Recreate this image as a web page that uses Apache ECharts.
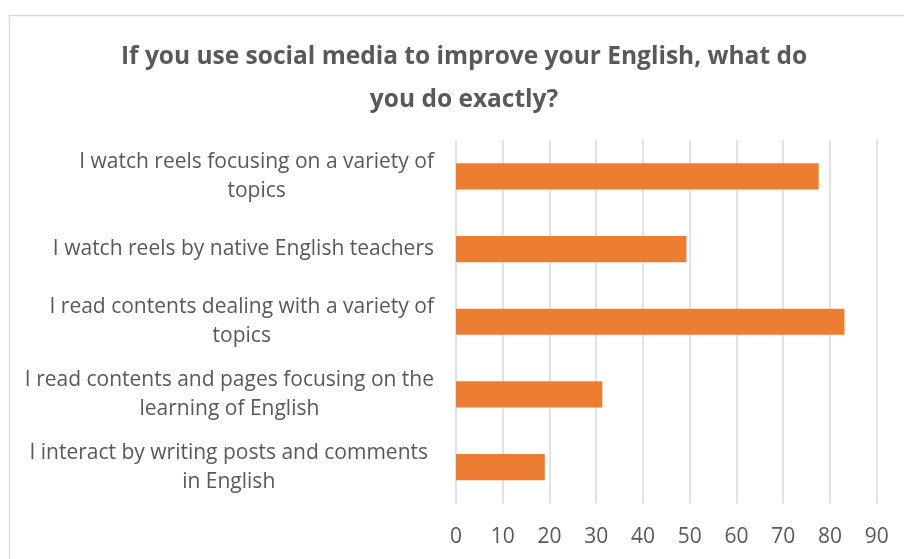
<!DOCTYPE html>
<html>
<head>
<meta charset="utf-8">
<script src="https://cdn.jsdelivr.net/npm/echarts@6/dist/echarts.min.js"></script>
<style>
  html, body { margin: 0; padding: 0; background: #fff; }
  #chart { width: 904px; height: 559px; }
</style>
</head>
<body>
<div id="chart"></div>
<script>
// Survey answers, top to bottom, with the line breaks used in the axis labels
const categories = [
  'I watch reels focusing on a variety of\ntopics',
  'I watch reels by native English teachers',
  'I read contents dealing with a variety of\ntopics',
  'I read contents and pages focusing on the\nlearning of English',
  'I interact by writing posts and comments\nin English'
];
const values = [77.6, 49.3, 83.1, 31.3, 19.0];
const tickMin = 0;
const tickMax = 90;
const tickStep = 10;

const titleText = 'If you use social media to improve your English, what do\nyou do exactly?';

const FONT = '"Open Sans", sans-serif';
const TEXT = '#595959';
const GRID = '#D9D9D9';
const BAR = '#ED7D31';

const chart = echarts.init(document.getElementById('chart'), null, { renderer: 'canvas' });

chart.setOption({
  animation: false,
  backgroundColor: '#ffffff',
  graphic: [{
    type: 'rect',
    shape: { x: 9.5, y: 15.5, width: 1000, height: 1000 },
    style: { fill: 'none', stroke: GRID, lineWidth: 1.5 },
    silent: true,
    z: -1
  }],
  title: {
    text: titleText,
    left: 459,
    top: 31,
    textAlign: 'center',
    textStyle: {
      fontFamily: FONT,
      fontSize: 24.5,
      fontWeight: 'bold',
      color: TEXT,
      lineHeight: 43
    }
  },
  grid: {
    left: 456,
    right: 27.3,
    top: 140,
    bottom: 55.5,
    containLabel: false
  },
  xAxis: {
    type: 'value',
    min: tickMin,
    max: tickMax,
    interval: tickStep,
    axisLine: { show: false },
    axisTick: { show: false },
    splitLine: { show: true, lineStyle: { color: GRID, width: 1.5 } },
    axisLabel: {
      color: TEXT,
      fontFamily: FONT,
      fontSize: 21,
      margin: 23
    }
  },
  yAxis: {
    type: 'category',
    inverse: true,
    data: categories,
    axisLine: { show: false },
    axisTick: { show: false },
    axisLabel: {
      margin: 22,
      align: 'right',
      formatter: function (v, i) {
        const key = i === 4 ? 'd' : 'c';
        return v.split('\n').map(function (s) { return '{' + key + '|' + s + '}'; }).join('\n');
      },
      rich: {
        c: {
          align: 'center',
          color: TEXT,
          fontFamily: FONT,
          fontSize: 21,
          lineHeight: 29
        },
        d: {
          align: 'center',
          color: TEXT,
          fontFamily: FONT,
          fontSize: 21,
          lineHeight: 29,
          padding: [0, 6, 0, 0]
        }
      }
    }
  },
  series: [{
    type: 'bar',
    data: values,
    barCategoryGap: '64%',
    itemStyle: { color: BAR },
    silent: true
  }]
});
</script>
</body>
</html>
